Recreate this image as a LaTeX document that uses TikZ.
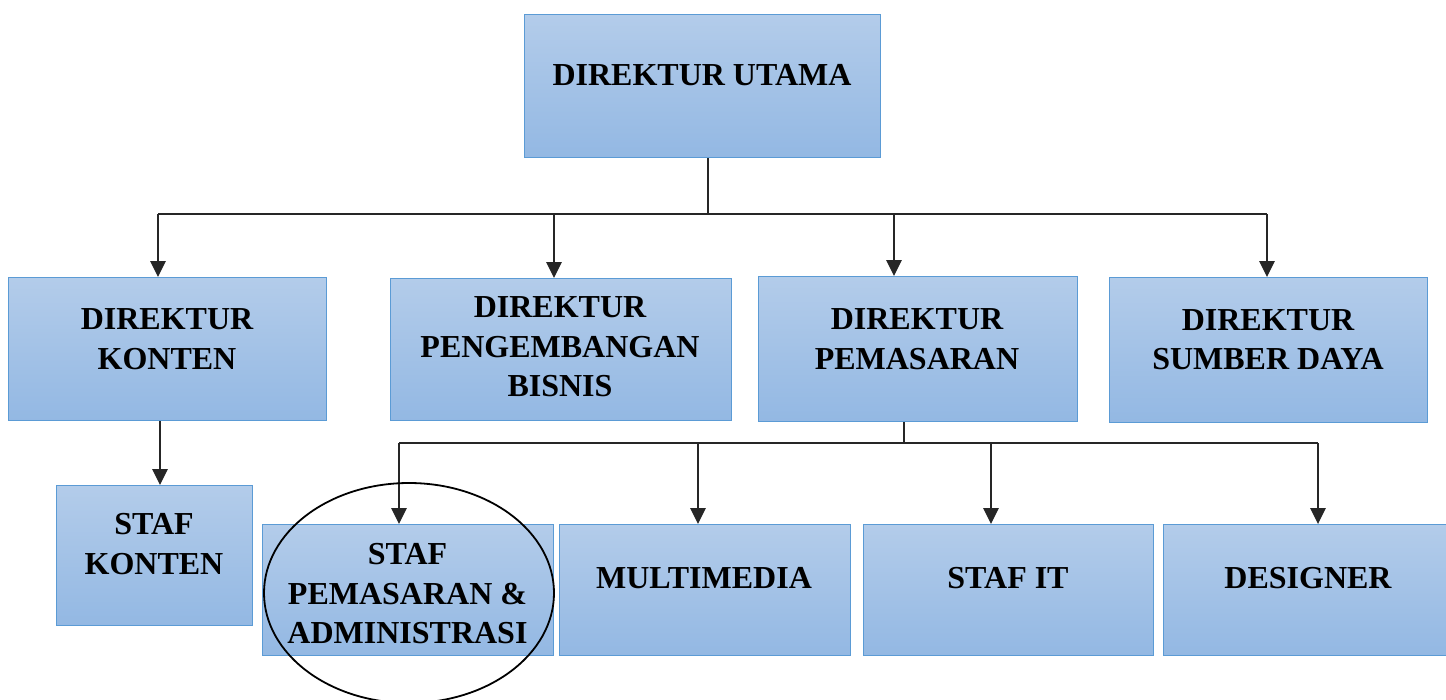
\documentclass[tikz,border=0pt]{standalone}
\usepackage{fontspec}
\setmainfont{Liberation Serif}
\usetikzlibrary{arrows.meta,calc,shapes.geometric}
\definecolor{boxline}{RGB}{91,155,213}
\definecolor{boxtop}{RGB}{179,204,234}
\definecolor{boxbot}{RGB}{147,184,227}
\begin{document}
\begin{tikzpicture}[x=1pt,y=-1pt,
  box/.style={rectangle, draw=boxline, line width=1.2pt, top color=boxtop, bottom color=boxbot, inner sep=0pt, anchor=north west},
  lbl/.style={font=\bfseries\fontsize{32}{39.5}\selectfont, align=center, inner sep=0pt},
  conn/.style={line width=1.3pt, black!85},
  arr/.style={conn, -{Triangle[length=16pt,width=15.5pt]}},
  hilite/.style={ellipse, draw=black, line width=1.8pt, inner sep=0pt}]
\useasboundingbox (0,0) rectangle (1446,699);
% boxes
\node[box, minimum width=356pt, minimum height=143pt] (top) at (524,14) {};
\node[box, minimum width=318pt, minimum height=143pt] (kon) at (8,277) {};
\node[box, minimum width=341pt, minimum height=142pt] (pb) at (390,278) {};
\node[box, minimum width=319pt, minimum height=145pt] (pm) at (758,276) {};
\node[box, minimum width=318pt, minimum height=145pt] (sd) at (1109,277) {};
\node[box, minimum width=196pt, minimum height=140pt] (sk) at (56,485) {};
\node[box, minimum width=291pt, minimum height=131pt] (sp) at (262,524) {};
\node[box, minimum width=291pt, minimum height=131pt] (mm) at (559,524) {};
\node[box, minimum width=290pt, minimum height=131pt] (it) at (863,524) {};
\node[box, minimum width=290pt, minimum height=131pt] (ds) at (1163,524) {};
% labels
\node[lbl] (ttop) at (702,75) {DIREKTUR UTAMA};
\node[lbl] (tkon) at (167,339) {DIREKTUR\\KONTEN};
\node[lbl] (tpb) at (560,347) {DIREKTUR\\PENGEMBANGAN\\BISNIS};
\node[lbl] (tpm) at (917,339) {DIREKTUR\\PEMASARAN};
\node[lbl] (tsd) at (1268,339.5) {DIREKTUR\\SUMBER DAYA};
\node[lbl] (tsk) at (154,544) {STAF\\KONTEN};
\node[lbl] (tsp) at (407.5,594) {STAF\\PEMASARAN \&\\ADMINISTRASI};
\node[lbl] (tmm) at (704,578) {MULTIMEDIA};
\node[lbl] (tit) at (1008,578) {STAF IT};
\node[lbl] (tds) at (1308,578) {DESIGNER};
% top bus
\coordinate (j0) at (708,214);
\coordinate (busL) at (158,214);
\coordinate (busR) at (1267,214);
\draw[conn] (top.south -| j0) -- (j0);
\draw[conn] (busL) -- (busR);
\coordinate (a1) at (158,214);
\coordinate (a2) at (554,214);
\coordinate (a3) at (894,214);
\coordinate (a4) at (1267,214);
\draw[arr] (a1) -- (a1 |- kon.north);
\draw[arr] (a2) -- (a2 |- pb.north);
\draw[arr] (a3) -- (a3 |- pm.north);
\draw[arr] (a4) -- (a4 |- sd.north);
% konten -> staf konten
\coordinate (kx) at (160,0);
\draw[arr] (kon.south -| kx) -- (sk.north -| kx);
% second bus
\coordinate (j1) at (904,443);
\coordinate (b2L) at (399,443);
\coordinate (b2R) at (1318,443);
\draw[conn] (pm.south -| j1) -- (j1);
\draw[conn] (b2L) -- (b2R);
\coordinate (c1) at (399,443);
\coordinate (c2) at (698,443);
\coordinate (c3) at (991,443);
\coordinate (c4) at (1318,443);
\draw[arr] (c1) -- (c1 |- sp.north);
\draw[arr] (c2) -- (c2 |- mm.north);
\draw[arr] (c3) -- (c3 |- it.north);
\draw[arr] (c4) -- (c4 |- ds.north);
% highlight ellipse
\node[hilite, minimum width=290pt, minimum height=220pt] (hl) at (409,593) {};
\end{tikzpicture}
\end{document}
